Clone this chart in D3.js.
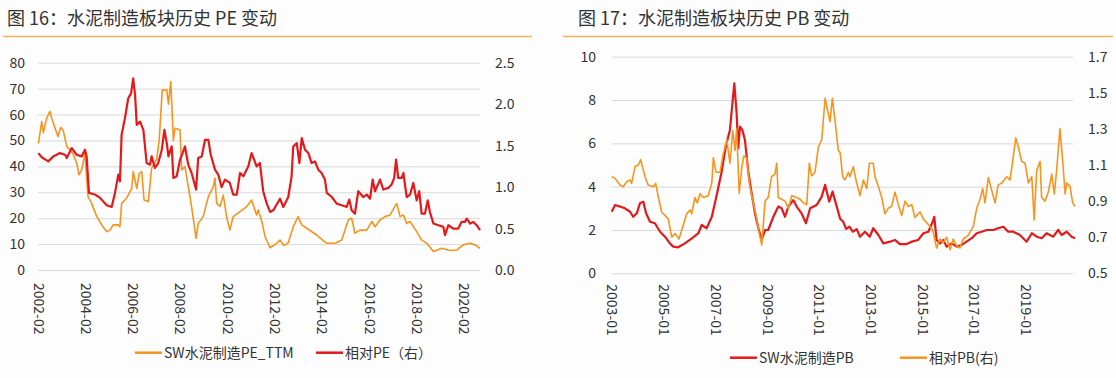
<!DOCTYPE html>
<html><head><meta charset="utf-8">
<script src="https://cdn.jsdelivr.net/npm/d3@7"></script>
<style>
html,body{margin:0;padding:0;background:#fdfdfd;}
svg{display:block;}
text{font-family:"Noto Sans CJK SC","Noto Sans",sans-serif;fill:#333;}
</style></head><body>
<svg id="c" width="1116" height="378"></svg>
<script>
// ---------- DATA ----------
const peTitle = "图 16：水泥制造板块历史 PE 变动";
const pbTitle = "图 17：水泥制造板块历史 PB 变动";
const peXTicks = ["2002-02","2004-02","2006-02","2008-02","2010-02","2012-02","2014-02","2016-02","2018-02","2020-02"];
const pbXTicks = ["2003-01","2005-01","2007-01","2009-01","2011-01","2013-01","2015-01","2017-01","2019-01"];
const peLeftTicks = [0,10,20,30,40,50,60,70,80];
const peRightTicks = [0.0,0.5,1.0,1.5,2.0,2.5];
const pbLeftTicks = [0,2,4,6,8,10];
const pbRightTicks = [0.5,0.7,0.9,1.1,1.3,1.5,1.7];
const peSeriesNames = ["SW水泥制造PE_TTM","相对PE（右）"];
const pbSeriesNames = ["SW水泥制造PB","相对PB(右)"];

// [decimal year, value]
const pettm = [[2002.10,48.9],[2002.24,57.3],[2002.31,53],[2002.45,58.6],[2002.59,61.2],[2002.66,58.6],[2002.93,51.5],[2003.04,55],[2003.15,53.9],[2003.30,47.6],[2003.44,46.3],[2003.56,45],[2003.72,41.2],[2003.82,36.7],[2003.93,38.6],[2004.07,45],[2004.20,28.3],[2004.35,25.7],[2004.57,20.6],[2004.78,17.4],[2004.99,14.8],[2005.13,15.4],[2005.26,17.4],[2005.48,17.4],[2005.55,16.7],[2005.62,25.7],[2005.83,27.7],[2006.05,31.5],[2006.11,38],[2006.26,31.5],[2006.37,37.3],[2006.47,38],[2006.57,27],[2006.75,26.4],[2006.89,39.3],[2007.10,42.5],[2007.21,50.2],[2007.34,69.5],[2007.53,69.5],[2007.60,64],[2007.70,72.7],[2007.81,50],[2007.88,54.7],[2008.09,54],[2008.16,38.6],[2008.30,39.9],[2008.44,32.2],[2008.58,24.5],[2008.77,12.2],[2008.86,18],[2009.07,20.6],[2009.29,28.3],[2009.50,32.2],[2009.57,35.5],[2009.64,25.7],[2009.78,24.5],[2009.92,28.9],[2010.06,20.6],[2010.20,15.4],[2010.34,20.6],[2010.63,22.5],[2010.91,24.5],[2011.12,27],[2011.33,21.2],[2011.40,23.2],[2011.55,18.7],[2011.69,12.9],[2011.90,8.6],[2012.18,10.3],[2012.32,11.6],[2012.49,9.4],[2012.67,10.5],[2012.88,16.7],[2013.09,20.6],[2013.24,17.4],[2013.45,16.1],[2013.87,13.5],[2014.30,10.3],[2014.65,10.3],[2014.93,11.6],[2015.21,19.3],[2015.35,20],[2015.49,14.2],[2015.70,15.4],[2015.99,15.4],[2016.20,18.7],[2016.34,16.7],[2016.55,19.3],[2016.76,20.6],[2016.97,21.2],[2017.26,25.7],[2017.40,20.6],[2017.54,21.2],[2017.68,18],[2017.82,18.7],[2018.10,14.8],[2018.31,11.6],[2018.53,10.3],[2018.81,7.1],[2019.16,8.4],[2019.51,7.5],[2019.79,7.7],[2020.07,9.7],[2020.36,10.3],[2020.57,9.7],[2020.78,8.4]];

const relPE = [[2002.10,1.41],[2002.24,1.36],[2002.52,1.31],[2002.73,1.37],[2003.01,1.41],[2003.23,1.39],[2003.30,1.35],[2003.51,1.47],[2003.72,1.39],[2003.93,1.37],[2004.07,1.45],[2004.14,1.37],[2004.24,0.93],[2004.49,0.91],[2004.71,0.87],[2004.99,0.78],[2005.20,0.76],[2005.34,0.93],[2005.48,1.15],[2005.55,1.07],[2005.62,1.63],[2005.76,1.83],[2005.90,2.07],[2006.02,2.13],[2006.11,2.31],[2006.19,2.11],[2006.26,1.75],[2006.40,1.79],[2006.54,1.69],[2006.68,1.29],[2006.82,1.27],[2006.89,1.37],[2007.03,1.23],[2007.17,1.29],[2007.32,1.45],[2007.43,1.69],[2007.53,1.53],[2007.60,1.37],[2007.74,1.49],[2007.81,1.11],[2007.95,1.13],[2008.09,1.33],[2008.20,1.41],[2008.30,1.49],[2008.44,1.27],[2008.58,1.17],[2008.77,0.97],[2008.86,1.35],[2009.01,1.37],[2009.15,1.57],[2009.29,1.57],[2009.39,1.39],[2009.57,1.21],[2009.71,1.15],[2009.85,1.00],[2009.99,1.09],[2010.20,1.05],[2010.34,0.91],[2010.49,0.91],[2010.63,1.17],[2010.77,1.13],[2010.98,1.25],[2011.12,1.41],[2011.33,1.25],[2011.47,1.29],[2011.61,0.95],[2011.76,0.80],[2011.90,0.70],[2012.04,0.72],[2012.32,0.86],[2012.46,0.76],[2012.67,0.88],[2012.81,1.13],[2012.88,1.49],[2013.03,1.53],[2013.14,1.29],[2013.24,1.59],[2013.38,1.45],[2013.52,1.41],[2013.66,1.29],[2013.80,1.31],[2013.94,1.21],[2014.08,1.17],[2014.22,1.09],[2014.30,0.93],[2014.51,0.88],[2014.72,0.80],[2014.93,0.78],[2015.14,0.76],[2015.25,0.85],[2015.35,0.72],[2015.49,0.68],[2015.63,0.95],[2015.84,0.88],[2015.99,0.91],[2016.13,0.86],[2016.24,1.09],[2016.34,0.95],[2016.55,1.09],[2016.69,0.97],[2016.90,0.99],[2017.04,1.03],[2017.15,1.11],[2017.23,1.33],[2017.32,1.11],[2017.47,1.11],[2017.54,1.17],[2017.68,0.88],[2017.82,0.91],[2017.96,1.05],[2018.10,0.84],[2018.21,0.95],[2018.31,0.68],[2018.45,0.68],[2018.57,0.84],[2018.66,0.70],[2018.81,0.56],[2019.02,0.54],[2019.23,0.52],[2019.30,0.42],[2019.44,0.54],[2019.65,0.50],[2019.86,0.50],[2020.00,0.58],[2020.14,0.58],[2020.22,0.62],[2020.36,0.56],[2020.50,0.58],[2020.64,0.54],[2020.78,0.48]];

const swPB = [[2003.00,2.84],[2003.13,3.15],[2003.32,3.08],[2003.51,3.00],[2003.71,2.84],[2003.83,2.61],[2003.97,2.77],[2004.09,3.23],[2004.22,3.31],[2004.33,2.77],[2004.48,2.38],[2004.67,2.31],[2004.87,1.92],[2005.06,1.69],[2005.25,1.38],[2005.38,1.23],[2005.57,1.20],[2005.83,1.38],[2006.15,1.66],[2006.35,1.85],[2006.48,2.23],[2006.67,2.08],[2006.87,2.61],[2007.06,3.62],[2007.25,4.69],[2007.41,5.85],[2007.57,6.62],[2007.66,7.77],[2007.74,8.77],[2007.83,7.38],[2007.89,5.77],[2007.96,6.77],[2008.05,6.62],[2008.15,6.16],[2008.28,4.69],[2008.41,3.69],[2008.54,2.77],[2008.67,2.08],[2008.80,1.54],[2008.93,2.00],[2009.05,2.00],[2009.25,2.61],[2009.44,3.08],[2009.57,3.00],[2009.70,2.61],[2009.83,3.08],[2010.02,3.38],[2010.15,3.08],[2010.34,2.77],[2010.51,2.31],[2010.67,3.00],[2010.92,3.15],[2011.12,3.54],[2011.25,4.08],[2011.41,3.31],[2011.54,3.77],[2011.70,3.08],[2011.83,2.52],[2011.95,2.38],[2012.06,2.05],[2012.19,2.15],[2012.32,1.92],[2012.47,2.04],[2012.60,1.69],[2012.79,1.92],[2012.98,1.69],[2013.11,2.08],[2013.31,1.77],[2013.50,1.38],[2013.76,1.46],[2013.95,1.54],[2014.14,1.35],[2014.40,1.35],[2014.60,1.46],[2014.85,1.54],[2015.05,1.85],[2015.24,1.92],[2015.41,2.38],[2015.47,2.61],[2015.56,1.54],[2015.69,1.38],[2015.82,1.54],[2015.95,1.23],[2016.14,1.38],[2016.34,1.23],[2016.53,1.31],[2016.72,1.46],[2016.92,1.62],[2017.11,1.85],[2017.30,1.92],[2017.50,2.00],[2017.75,2.00],[2017.94,2.08],[2018.14,2.15],[2018.33,1.92],[2018.52,1.92],[2018.78,1.77],[2019.04,1.46],[2019.24,1.85],[2019.43,1.69],[2019.62,1.62],[2019.81,1.85],[2020.07,1.69],[2020.26,2.00],[2020.39,1.77],[2020.59,1.92],[2020.78,1.69],[2020.91,1.62]];

const relPB = [[2003.00,1.035],[2003.13,1.026],[2003.32,0.989],[2003.45,0.98],[2003.58,1.008],[2003.71,1.017],[2003.77,0.998],[2003.90,1.09],[2004.03,1.10],[2004.12,1.13],[2004.29,1.035],[2004.41,0.989],[2004.61,0.98],[2004.70,0.998],[2004.80,0.924],[2004.93,0.84],[2005.06,0.82],[2005.19,0.80],[2005.32,0.70],[2005.45,0.72],[2005.60,0.69],[2005.71,0.74],[2005.90,0.83],[2006.03,0.85],[2006.09,0.83],[2006.22,0.92],[2006.31,0.89],[2006.41,0.94],[2006.54,0.92],[2006.73,0.93],[2006.87,1.00],[2006.93,1.14],[2007.03,1.06],[2007.19,1.06],[2007.31,1.16],[2007.45,1.24],[2007.57,1.11],[2007.68,1.29],[2007.77,1.18],[2007.83,1.30],[2007.93,0.943],[2008.03,1.09],[2008.11,1.15],[2008.22,1.14],[2008.32,1.00],[2008.47,0.89],[2008.60,0.81],[2008.69,0.73],[2008.80,0.657],[2008.93,0.90],[2009.05,0.92],[2009.18,1.035],[2009.31,1.05],[2009.38,1.11],[2009.44,0.92],[2009.57,0.91],[2009.70,0.90],[2009.83,0.86],[2009.96,0.93],[2010.15,0.92],[2010.28,0.91],[2010.41,0.89],[2010.54,0.88],[2010.64,1.11],[2010.73,1.04],[2010.86,1.06],[2010.99,1.20],[2011.12,1.24],[2011.25,1.47],[2011.35,1.40],[2011.44,1.34],[2011.53,1.47],[2011.63,1.35],[2011.76,1.18],[2011.83,1.17],[2011.93,1.035],[2012.02,1.017],[2012.15,1.06],[2012.21,1.035],[2012.34,1.09],[2012.47,1.00],[2012.60,0.93],[2012.73,1.017],[2012.86,0.97],[2012.96,1.11],[2013.11,1.11],[2013.18,1.035],[2013.31,0.98],[2013.44,0.92],[2013.56,0.83],[2013.69,0.86],[2013.82,0.87],[2013.95,0.95],[2014.08,0.88],[2014.21,0.82],[2014.34,0.90],[2014.47,0.87],[2014.60,0.88],[2014.72,0.81],[2014.92,0.84],[2015.05,0.80],[2015.24,0.77],[2015.41,0.74],[2015.56,0.64],[2015.69,0.69],[2015.82,0.67],[2015.95,0.70],[2016.08,0.63],[2016.20,0.69],[2016.34,0.65],[2016.46,0.64],[2016.59,0.69],[2016.78,0.71],[2016.98,0.76],[2017.11,0.86],[2017.24,0.91],[2017.34,0.97],[2017.43,0.89],[2017.56,1.03],[2017.69,0.96],[2017.82,0.89],[2017.94,0.99],[2018.08,1.00],[2018.27,1.035],[2018.40,1.017],[2018.50,1.12],[2018.62,1.25],[2018.72,1.20],[2018.85,1.12],[2018.98,1.11],[2019.11,1.00],[2019.24,1.035],[2019.33,0.795],[2019.43,1.07],[2019.56,1.12],[2019.62,0.92],[2019.75,0.90],[2019.88,0.95],[2020.01,1.05],[2020.11,0.94],[2020.20,1.07],[2020.33,1.30],[2020.44,1.11],[2020.53,0.94],[2020.59,1.00],[2020.72,0.98],[2020.82,0.89],[2020.91,0.87]];

// ---------- DRAW ----------
const RED = "#e31a1c", ORANGE = "#f5951f";
const svg = d3.select("#c");
const ym = s => { const [y, m] = s.split("-").map(Number); return y + (m - 1) / 12; };

function drawChart(o) {
  const g = svg.append("g");
  // title + rule
  g.append("text").attr("x", o.titleX).attr("y", 25).attr("font-size", 18).attr("fill", "#3a3a3a").text(o.title);
  g.append("line").attr("x1", o.ruleX[0]).attr("x2", o.ruleX[1]).attr("y1", 36.5).attr("y2", 36.5)
    .attr("stroke", "#f2b35e").attr("stroke-width", 1.5);

  const x = d3.scaleLinear().domain(o.xDomain).range(o.xRange);
  const yL = d3.scaleLinear().domain(d3.extent(o.leftTicks)).range(o.yRange);
  const yR = d3.scaleLinear().domain(d3.extent(o.rightTicks)).range(o.yRange);

  // gridlines
  const grid = g.append("g").attr("transform", `translate(${o.xRange[0]},0)`)
    .call(d3.axisLeft(yL).tickValues(o.leftTicks).tickSize(-(o.gridEnd - o.xRange[0])).tickFormat(""));
  grid.select(".domain").remove();
  grid.selectAll("line").attr("stroke", "#d9d9d9").attr("stroke-width", 1);

  // left axis labels
  const la = g.append("g").attr("transform", `translate(${o.leftLabelX},0)`)
    .call(d3.axisLeft(yL).tickValues(o.leftTicks).tickSize(0).tickPadding(0).tickFormat(d3.format("d")));
  la.select(".domain").remove();
  la.selectAll("text").attr("font-size", 14).attr("fill", "#333").style("font-family", '"Noto Sans CJK SC",sans-serif');

  // right axis labels
  const ra = g.append("g").attr("transform", `translate(${o.rightLabelX},0)`)
    .call(d3.axisRight(yR).tickValues(o.rightTicks).tickSize(0).tickPadding(0).tickFormat(d3.format(".1f")));
  ra.select(".domain").remove();
  ra.selectAll("text").attr("font-size", 14).attr("fill", "#333").style("font-family", '"Noto Sans CJK SC",sans-serif');

  // x axis
  const xa = g.append("g").attr("transform", `translate(0,${o.yRange[0]})`)
    .call(d3.axisBottom(x).tickValues(o.xTicks.map(ym)).tickSize(0)
      .tickFormat((d, i) => o.xTicks[i]));
  xa.select(".domain").remove();
  xa.selectAll("text").attr("transform", "rotate(90)").attr("x", o.xLabelOff).attr("y", 0).attr("dy", "0.35em")
    .attr("text-anchor", "start").attr("font-size", 14).attr("fill", "#333")
    .style("font-family", '"Noto Sans CJK SC",sans-serif');

  // lines
  o.series.forEach(s => {
    const sc = s.axis === "left" ? yL : yR;
    g.append("path").datum(s.data)
      .attr("fill", "none").attr("stroke", s.color).attr("stroke-width", s.width)
      .attr("stroke-linejoin", "round")
      .attr("d", d3.line().x(d => x(d[0])).y(d => sc(d[1])));
  });

  // legend
  o.legend.forEach(l => {
    g.append("line").attr("x1", l.x).attr("x2", l.x + 27).attr("y1", o.legendY).attr("y2", o.legendY)
      .attr("stroke", l.color).attr("stroke-width", 2.5);
    g.append("text").attr("x", l.x + 29).attr("y", o.legendY).attr("dy", "0.36em")
      .attr("font-size", 14).attr("fill", "#333").text(l.name);
  });
}

drawChart({
  title: peTitle, titleX: 7, ruleX: [3, 532],
  xDomain: [ym("2002-02"), 2020.78], xRange: [38, 480], gridEnd: 480,
  yRange: [270, 62.7], leftTicks: peLeftTicks, rightTicks: peRightTicks,
  leftLabelX: 25, rightLabelX: 495, xTicks: peXTicks, xLabelOff: 13,
  series: [
    { data: pettm, axis: "left", color: ORANGE, width: 1.6 },
    { data: relPE, axis: "right", color: RED, width: 2.2 }
  ],
  legendY: 352.7,
  legend: [{ x: 135, color: ORANGE, name: peSeriesNames[0] }, { x: 316, color: RED, name: peSeriesNames[1] }]
});

drawChart({
  title: pbTitle, titleX: 578, ruleX: [563, 1113],
  xDomain: [2003.0, 2020.91], xRange: [611.7, 1075], gridEnd: 1073,
  yRange: [273.3, 56.7], leftTicks: pbLeftTicks, rightTicks: pbRightTicks,
  leftLabelX: 596, rightLabelX: 1088, xTicks: pbXTicks, xLabelOff: 11,
  series: [
    { data: swPB, axis: "left", color: RED, width: 2.2 },
    { data: relPB, axis: "right", color: ORANGE, width: 1.6 }
  ],
  legendY: 357.7,
  legend: [{ x: 730, color: RED, name: pbSeriesNames[0] }, { x: 900, color: ORANGE, name: pbSeriesNames[1] }]
});
</script>
</body></html>
